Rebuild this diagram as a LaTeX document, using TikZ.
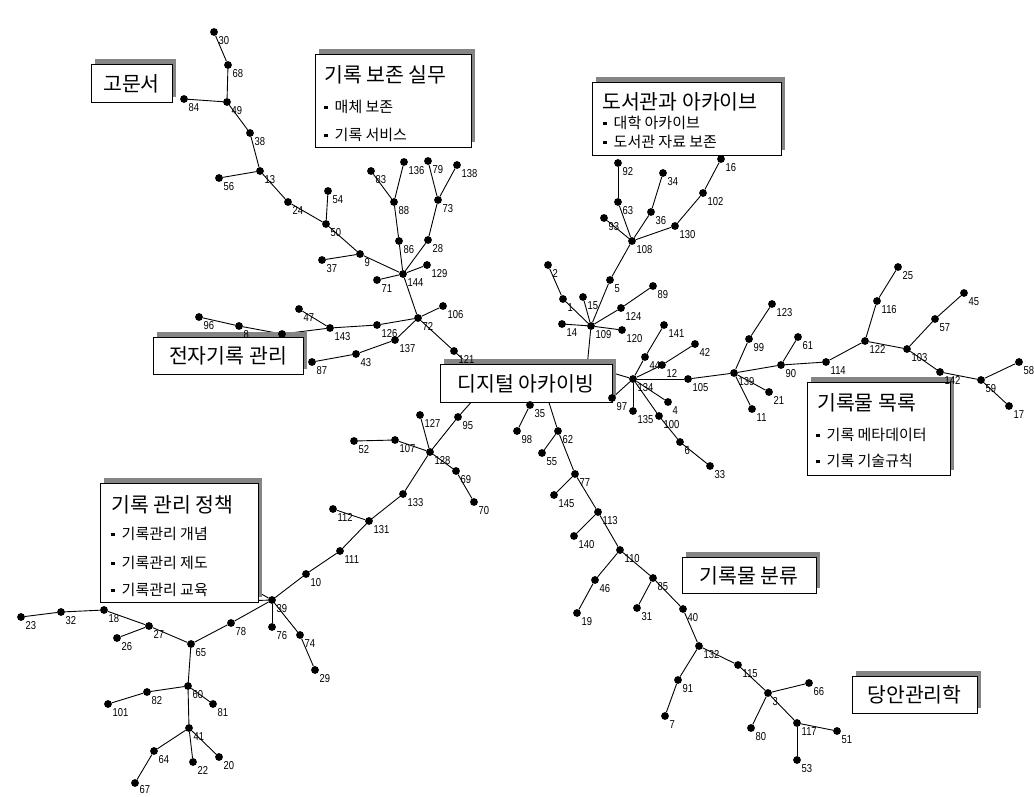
\documentclass[tikz,border=0pt]{standalone}
\usepackage{fontspec}
\setmainfont{Liberation Sans}
\newfontfamily\kr{Noto Sans CJK KR}
\newfontfamily\numf[FakeStretch=0.82]{Liberation Sans}
\usetikzlibrary{shadows}
\definecolor{shd}{gray}{0.52}
\newcommand\bul{\rule[3.4pt]{3.5pt}{3.5pt}\hspace{7pt}}
\newcommand\nd[3]{\node[dot] (n#1) at (#2,#3) {}; \node[lbl, anchor=base west] (l#1) at (#2+4.5,#3+12) {#1};}
\pgfdeclarelayer{bg}
\pgfdeclarelayer{edges}
\pgfdeclarelayer{boxes}
\pgfsetlayers{bg,edges,boxes,main}
\begin{document}
\begin{tikzpicture}[x=1pt,y=-1pt,
 dot/.style={circle, fill=black, inner sep=0pt, minimum size=7.8pt},
 lbl/.style={font=\numf\fontsize{11.5}{12}\selectfont, inner sep=0pt},
 edge/.style={line width=0.9pt},
 box/.style={draw=black, line width=0.9pt, fill=white, inner sep=0pt, anchor=north west,
   general shadow={fill=shd, shadow xshift=4pt, shadow yshift=5pt}},
 ttl/.style={font=\kr\fontsize{20.5}{22}\selectfont, inner sep=0pt},
 itm/.style={font=\kr\fontsize{15}{16}\selectfont, inner sep=0pt}]
\begin{pgfonlayer}{bg}
\fill[white] (0,0) rectangle (1034,796);
\end{pgfonlayer}
\useasboundingbox (0,0) rectangle (1034,796);
% nodes
\nd{30}{214}{32} \nd{68}{228}{65} \nd{49}{227}{102} \nd{84}{184}{99}
\nd{38}{250}{133} \nd{13}{260}{171} \nd{56}{219}{178} \nd{24}{288}{202}
\nd{50}{326}{224} \nd{54}{328}{191} \nd{9}{360}{254} \nd{37}{322}{260}
\nd{83}{371}{171} \nd{136}{404}{162} \nd{79}{428}{161} \nd{138}{457}{165}
\nd{88}{394}{202} \nd{73}{438}{200} \nd{86}{399}{241} \nd{28}{428}{240}
\nd{129}{427}{265} \nd{144}{403}{274} \nd{71}{377}{280} \nd{72}{418}{318}
\nd{106}{443}{306} \nd{47}{299}{309} \nd{143}{330}{328} \nd{126}{377}{325}
\node[dot] (nu) at (282,334) {};
\nd{8}{239}{326} \nd{96}{199}{317} \nd{137}{395}{340} \nd{43}{356}{354}
\nd{87}{312}{362} \nd{121}{454}{351} \nd{95}{458}{417} \nd{127}{420}{415}
\nd{107}{395}{440} \nd{52}{354}{441} \nd{128}{430}{452} \nd{69}{456}{471}
\nd{70}{474}{502} \nd{133}{403}{494} \nd{131}{369}{521} \nd{112}{333}{509}
\nd{111}{340}{551} \nd{10}{306}{574} \nd{39}{272}{600} \nd{76}{272}{627}
\nd{74}{300}{635} \nd{29}{315}{670} \nd{78}{231}{623} \nd{65}{191}{644}
\nd{27}{149}{626} \nd{18}{104}{610} \nd{32}{61}{612} \nd{23}{21}{617}
\nd{26}{117}{638} \nd{60}{188}{686} \nd{82}{147}{692} \nd{101}{108}{704}
\nd{81}{213}{704} \nd{41}{189}{728} \nd{64}{154}{751}
\node[dot] (n67) at (135,783) {};
\node[lbl, anchor=base west] (l67) at (139.5,793) {67};
\nd{22}{193}{762} \nd{20}{219}{757}
\nd{92}{618}{163} \nd{63}{618}{202} \nd{93}{604}{218} \nd{34}{663}{173}
\nd{36}{651}{212} \nd{16}{721}{159} \nd{102}{703}{193} \nd{130}{675}{226}
\nd{108}{632}{241} \nd{5}{610}{280} \nd{2}{548}{265} \nd{1}{563}{299}
\nd{15}{583}{297} \nd{14}{562}{324} \nd{109}{591}{326} \nd{120}{622}{330}
\nd{124}{621}{308} \nd{89}{653}{286}
\nd{134}{633}{379} \nd{44}{645}{357} \nd{141}{664}{325} \nd{12}{662}{365}
\nd{42}{695}{344} \nd{105}{688}{379} \nd{4}{668}{402} \nd{135}{633}{411}
\nd{100}{659}{416} \nd{6}{680}{442} \nd{33}{710}{466} \nd{97}{612}{398}
\nd{139}{734}{373} \nd{99}{749}{339} \nd{123}{772}{304} \nd{21}{769}{392}
\nd{11}{752}{409} \nd{90}{781}{365} \nd{61}{798}{337} \nd{114}{826}{362}
\nd{122}{865}{341} \nd{116}{877}{301} \nd{25}{898}{267} \nd{103}{907}{349}
\nd{57}{935}{319} \nd{45}{964}{293} \nd{142}{940}{372} \nd{59}{981}{380}
\nd{58}{1019}{362} \nd{17}{1009}{406}
\nd{35}{530}{405} \nd{98}{517}{431} \nd{62}{558}{431} \nd{55}{542}{453}
\nd{77}{575}{474} \nd{145}{554}{495} \nd{113}{598}{512} \nd{140}{574}{536}
\nd{110}{620}{550} \nd{46}{595}{580} \nd{19}{577}{613} \nd{85}{653}{578}
\nd{31}{637}{608} \nd{40}{683}{609} \nd{132}{699}{646} \nd{91}{678}{680}
\nd{7}{665}{716} \nd{115}{738}{665} \nd{3}{768}{693} \nd{66}{809}{683}
\nd{80}{751}{728} \nd{117}{797}{723} \nd{51}{837}{731} \nd{53}{797}{760}
% hidden ends behind boxes
\coordinate (nh121) at (482,377);
\coordinate (nh95) at (482,390);
\coordinate (nh35) at (537,390);
\coordinate (nh62) at (545,390);
\coordinate (nh109) at (586,378);
\coordinate (nh134) at (596,368);
\coordinate (nh39a) at (242,583);
\coordinate (nh39b) at (240,601);
% edges
\begin{pgfonlayer}{edges}
\foreach \a/\b in {30/68,68/49,49/84,49/38,38/13,13/56,13/24,24/50,50/54,50/9,9/37,9/144,
 144/71,144/86,86/88,88/83,88/136,144/28,28/73,73/79,73/138,144/129,144/72,
 72/106,72/121,72/126,126/143,143/47,143/u,u/8,8/96,72/137,137/43,43/87,121/h121,
 95/h95,95/128,128/127,128/107,107/52,128/69,69/70,128/133,133/131,131/112,131/111,111/10,10/39,
 39/h39a,39/h39b,39/78,78/65,39/76,39/74,74/29,
 65/27,27/18,18/32,32/23,27/26,65/60,60/82,82/101,60/81,60/41,41/64,64/67,41/22,41/20,
 35/h35,35/98,62/h62,62/55,62/77,77/145,77/113,113/140,113/110,110/46,46/19,110/85,85/31,85/40,
 40/132,132/91,91/7,132/115,115/3,3/66,3/80,3/117,117/51,117/53,
 109/h109,109/1,1/2,109/15,109/14,109/120,109/124,124/89,109/5,5/108,108/63,63/92,108/93,
 108/36,36/34,108/130,130/102,102/16,
 134/h134,134/97,134/44,44/141,134/12,12/42,134/105,105/139,134/4,134/135,134/100,100/6,6/33,
 139/99,99/123,139/21,139/11,139/90,90/61,90/114,114/122,122/116,116/25,122/103,103/57,57/45,
 103/142,142/59,59/58,59/17}
 \draw[edge] (n\a) -- (n\b);
\end{pgfonlayer}
% boxes
\begin{pgfonlayer}{boxes}
\node[box, minimum width=81pt, minimum height=38pt] (b1) at (91,64) {};
\node[box, minimum width=156pt, minimum height=93pt] (b2) at (315,54) {};
\node[box, minimum width=189pt, minimum height=73pt] (b3) at (592,82) {};
\node[box, minimum width=150pt, minimum height=37pt] (b4) at (153,337) {};
\node[box, minimum width=172pt, minimum height=38pt] (b5) at (440,364) {};
\node[box, minimum width=143pt, minimum height=93pt] (b6) at (807,382) {};
\node[box, minimum width=158pt, minimum height=119pt] (b7) at (100,483) {};
\node[box, minimum width=134pt, minimum height=36pt] (b8) at (682,557) {};
\node[box, minimum width=125pt, minimum height=37pt] (b9) at (852,676) {};
\end{pgfonlayer}
% box texts
\node[ttl] (t1) at (131.5,84) {고문서};
\node[ttl, anchor=west] (t2) at (324,75) {기록 보존 실무};
\node[itm, anchor=west] (t2a) at (324,107) {\bul 매체 보존};
\node[itm, anchor=west] (t2b) at (324,135) {\bul 기록 서비스};
\node[ttl, anchor=west] (t3) at (602,102) {도서관과 아카이브};
\node[itm, anchor=west] (t3a) at (603,123) {\bul 대학 아카이브};
\node[itm, anchor=west] (t3b) at (603,142) {\bul 도서관 자료 보존};
\node[ttl] (t4) at (228,356) {전자기록 관리};
\node[ttl] (t5) at (526,384) {디지털 아카이빙};
\node[ttl, anchor=west] (t6) at (817,403) {기록물 목록};
\node[itm, anchor=west] (t6a) at (816,435) {\bul 기록 메타데이터};
\node[itm, anchor=west] (t6b) at (816,461) {\bul 기록 기술규칙};
\node[ttl, anchor=west] (t7) at (111,505) {기록 관리 정책};
\node[itm, anchor=west] (t7a) at (111,534) {\bul 기록관리 개념};
\node[itm, anchor=west] (t7b) at (111,563) {\bul 기록관리 제도};
\node[itm, anchor=west] (t7c) at (111,590) {\bul 기록관리 교육};
\node[ttl] (t8) at (749,576) {기록물 분류};
\node[ttl] (t9) at (914.5,695) {당안관리학};
\end{tikzpicture}
\end{document}
